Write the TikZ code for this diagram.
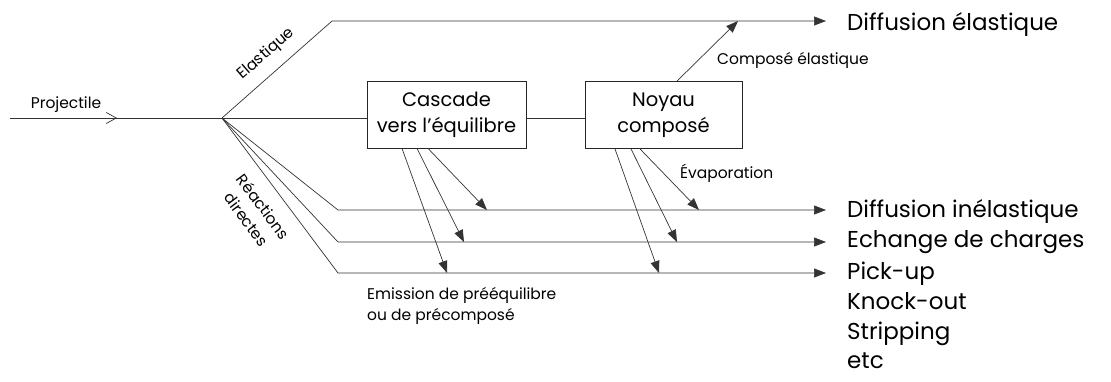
\documentclass[tikz,border=0pt]{standalone}
\usepackage{fontspec}
\setmainfont{Poppins}
\usepackage{tikz}
\usetikzlibrary{arrows.meta, positioning}
\tikzstyle{stage} = [rectangle, draw=black!85, line width=0.8pt, minimum width=159pt, minimum height=67pt, align=center, inner sep=0pt, font=\fontsize{19.5}{26}\selectfont]
\tikzstyle{flow} = [line width=0.7pt, draw=black!80]
\tikzstyle{arrow} = [flow, -{Triangle[length=12pt,width=9pt]}]
\tikzstyle{outtxt} = [anchor=base west, inner sep=0pt, font=\fontsize{23}{28}\selectfont]
\tikzstyle{lbl} = [inner sep=0pt, font=\fontsize{15.5}{21}\selectfont]

\begin{document}
\begin{tikzpicture}[x=1pt, y=-1pt, node distance = 10mm]
	\useasboundingbox (0,0) rectangle (1111,381);
	% projectile
	\coordinate (in) at (10,118);
	\coordinate (intip) at (117,118);
	\coordinate (split) at (222,118);
	\node[lbl, anchor=base] (proj) at (66,108) {Projectile};
	\draw[flow] (in) -- (split);
	\draw[flow, -{Straight Barb[length=10pt,width=11pt]}] (in) -- (intip);
	
	% boites
	\node[stage] (cascade) at (446.5,114.5) {Cascade\\vers l’équilibre};
	\node[stage, minimum width=157pt] (noyau) at (663.5,115) {Noyau\\composé};
	\draw[flow] (split) -- (split -| cascade.west);
	\draw[flow] (cascade.east |- split) -- (noyau.west |- split);
	
	% voie elastique
	\coordinate (elknee) at (332,21);
	\coordinate (elend) at (826,21);
	\draw[arrow] (split) -- (elknee) -- (elend);
	\node[lbl, rotate=41] (ellbl) at (266,54) {Elastique};
	\node[outtxt] (diffel) at (847,30) {Diffusion élastique};
	\coordinate (cetip) at (738,21);
	\draw[arrow] ([xshift=13.5pt]noyau.north) -- (cetip);
	\node[lbl, anchor=west] (celbl) at (717,60) {Composé élastique};
	
	% reactions directes
	\coordinate (knee1) at (338,210);
	\coordinate (knee2) at (338,242);
	\coordinate (knee3) at (338,273);
	\coordinate (end1) at (826,210);
	\coordinate (end2) at (826,242);
	\coordinate (end3) at (826,273);
	\draw[arrow] (split) -- (knee1) -- (end1);
	\draw[arrow] (split) -- (knee2) -- (end2);
	\draw[arrow] (split) -- (knee3) -- (end3);
	\node[lbl, rotate=-53, align=center] (rdlbl) at (255,213) {Réactions\\directes};
	
	\node[outtxt] (diffinel) at (847,217) {Diffusion inélastique};
	\node[outtxt] (echange) at (847,247) {Echange de charges};
	\node[outtxt] (pickup) at (847,279) {Pick-up};
	\node[outtxt] (knockout) at (847,309) {Knock-out};
	\node[outtxt] (stripping) at (847,339) {Stripping};
	\node[outtxt] (etc) at (847,368) {etc};
	
	% preequilibre
	\coordinate (pre1) at (487,210);
	\coordinate (pre2) at (464,242);
	\coordinate (pre3) at (447,273);
	\draw[arrow] ([xshift=-18.5pt]cascade.south) -- (pre1);
	\draw[arrow] ([xshift=-29.5pt]cascade.south) -- (pre2);
	\draw[arrow] ([xshift=-44.5pt]cascade.south) -- (pre3);
	\node[lbl, anchor=north west, align=left] (emlbl) at (367,287) {Emission de prééquilibre\\ou de précomposé};
	
	% evaporation
	\coordinate (evap1) at (699,210);
	\coordinate (evap2) at (677,242);
	\coordinate (evap3) at (659,273);
	\draw[arrow] ([xshift=-23.5pt]noyau.south) -- (evap1);
	\draw[arrow] ([xshift=-32.5pt]noyau.south) -- (evap2);
	\draw[arrow] ([xshift=-48.5pt]noyau.south) -- (evap3);
	\node[lbl, anchor=west] (evlbl) at (680,173) {Évaporation};
\end{tikzpicture}
\end{document}
